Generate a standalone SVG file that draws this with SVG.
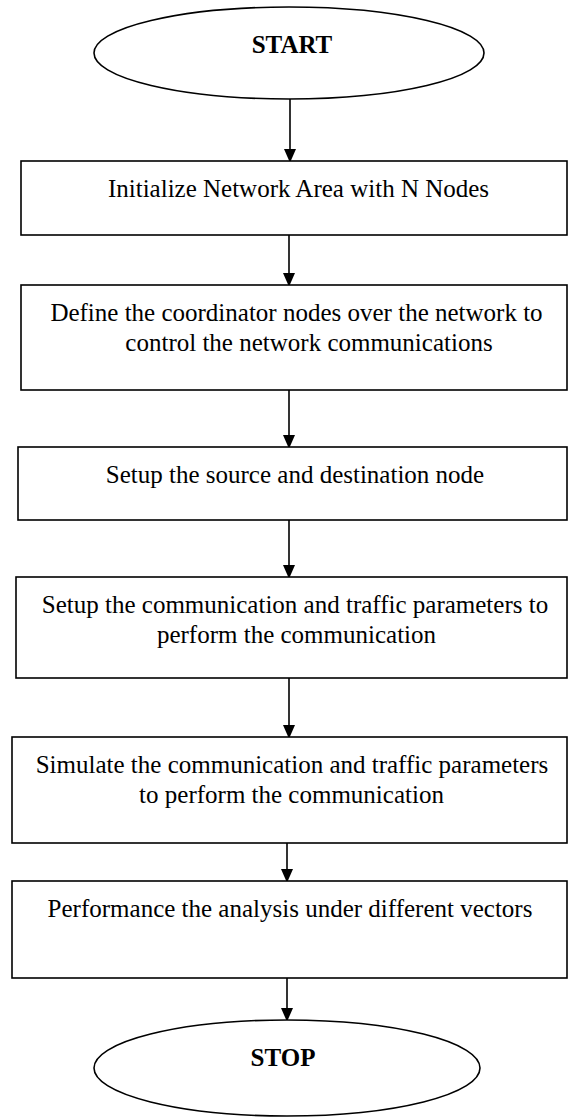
<svg xmlns="http://www.w3.org/2000/svg" width="568" height="1118" viewBox="0 0 568 1118">
<style>
.box{fill:#fff;stroke:#000;stroke-width:1.6}
.term{fill:#fff;stroke:#000;stroke-width:1.6}
.t{font-family:"Liberation Serif","Times New Roman",serif;font-size:25px;fill:#000;text-anchor:middle}
.tb{font-family:"Liberation Serif","Times New Roman",serif;font-size:25px;font-weight:bold;fill:#000;text-anchor:middle}
.c{stroke:#000;stroke-width:1.6;fill:none;marker-end:url(#ah)}
</style>
<defs>
<marker id="ah" markerUnits="userSpaceOnUse" markerWidth="14" markerHeight="16" refX="14" refY="7" orient="auto" viewBox="0 0 16 14">
<path d="M0,0 L16,7 L0,14 Z" fill="#000"/>
</marker>
</defs>
<rect width="568" height="1118" fill="#fff"/>
<g id="connectors">
<line class="c" x1="290" y1="99" x2="290" y2="161"/>
<line class="c" x1="289" y1="235" x2="289" y2="285"/>
<line class="c" x1="289" y1="390" x2="289" y2="447"/>
<line class="c" x1="289" y1="520" x2="289" y2="577"/>
<line class="c" x1="289" y1="678" x2="289" y2="737"/>
<line class="c" x1="287" y1="843" x2="287" y2="881"/>
<line class="c" x1="287" y1="978" x2="287" y2="1020"/>
</g>
<g id="start">
<ellipse class="term" cx="289" cy="53" rx="195" ry="46"/>
<text class="tb" x="292" y="53">START</text>
</g>
<g id="step1">
<rect class="box" x="21" y="161" width="546" height="74"/>
<text class="t" x="298.5" y="197">Initialize Network Area with N Nodes</text>
</g>
<g id="step2">
<rect class="box" x="21" y="285" width="546" height="105"/>
<text class="t" x="296.5" y="321">Define the coordinator nodes over the network to</text>
<text class="t" x="309" y="351">control the network communications</text>
</g>
<g id="step3">
<rect class="box" x="18" y="447" width="549" height="73"/>
<text class="t" x="295" y="483">Setup the source and destination node</text>
</g>
<g id="step4">
<rect class="box" x="16" y="577" width="551" height="101"/>
<text class="t" x="295" y="613">Setup the communication and traffic parameters to</text>
<text class="t" x="296.5" y="643">perform the communication</text>
</g>
<g id="step5">
<rect class="box" x="12" y="737" width="555" height="106"/>
<text class="t" x="292" y="773">Simulate the communication and traffic parameters</text>
<text class="t" x="291.5" y="803">to perform the communication</text>
</g>
<g id="step6">
<rect class="box" x="12" y="881" width="555" height="97"/>
<text class="t" x="290" y="917">Performance the analysis under different vectors</text>
</g>
<g id="stop">
<ellipse class="term" cx="287" cy="1068" rx="193" ry="48"/>
<text class="tb" x="283" y="1066">STOP</text>
</g>
</svg>
